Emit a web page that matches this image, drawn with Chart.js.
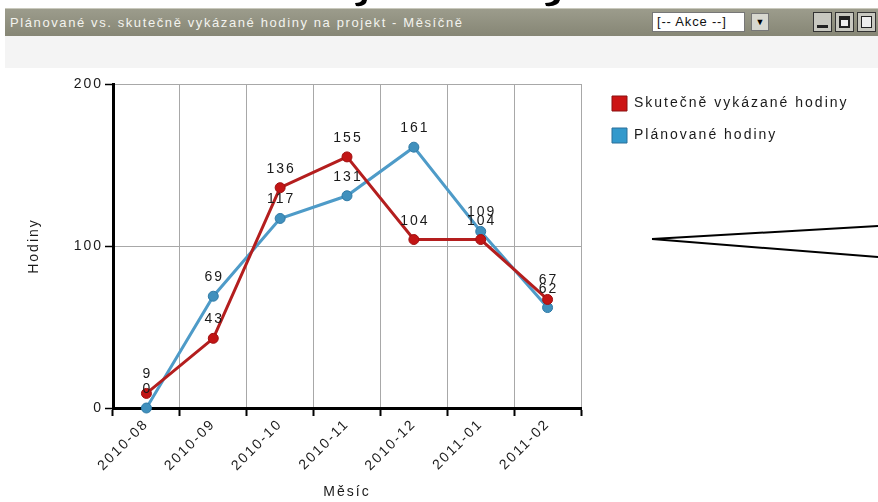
<!DOCTYPE html>
<html>
<head>
<meta charset="utf-8">
<script src="https://cdn.jsdelivr.net/npm/chart.js@4.4.1/dist/chart.umd.min.js"></script>
<style>
  body { margin: 0; width: 878px; height: 502px; overflow: hidden; position: relative; background: #fff; font-family: "Liberation Sans", Arial, sans-serif; }
  #bar { position: absolute; left: 5px; top: 8px; width: 873px; height: 28px; box-sizing: border-box; background: linear-gradient(#9c9c8c, #868675); border-top: 1px solid #c9c9bd; }
  #bar .t { position: absolute; left: 5px; top: 6px; color: #f3f3ee; font-size: 13px; letter-spacing: 1.6px; white-space: nowrap; }
  #sel { position: absolute; left: 647px; top: 3px; width: 93px; height: 20px; box-sizing: border-box; background: #fff; border: 1px solid #777; font-size: 13px; line-height: 18px; padding-left: 4px; color: #111; letter-spacing: 0.8px; }
  #arr { position: absolute; left: 746px; top: 4px; width: 18px; height: 18px; box-sizing: border-box; background: #d8d8d0; border: 1px solid #777; font-size: 9px; line-height: 16px; text-align: center; color: #000; }
  .btn { position: absolute; top: 3px; width: 19px; height: 20px; box-sizing: border-box; background: #c8c8c0; border: 1px solid #333; }
  .btn i { position: absolute; left: 3px; top: 3px; width: 11px; height: 12px; box-sizing: border-box; border: 2px solid #222; background: #eee; }
  #band { position: absolute; left: 5px; top: 36px; width: 873px; height: 32px; background: #f4f4f4; }
  #wrap { position: absolute; left: 5px; top: 68px; width: 873px; height: 434px; }
  svg { position: absolute; left: 0; top: 0; }
</style>
</head>
<body>
<div id="bar">
  <span class="t">Plánované vs. skutečně vykázané hodiny na projekt - Měsíčně</span>
  <div id="sel">[-- Akce --]</div>
  <div id="arr">&#9660;</div>
  <div class="btn" style="left:808px"><i style="top:12px;height:3px;border-width:1px;background:#222"></i></div>
  <div class="btn" style="left:830px"><i style="border-top-width:4px"></i></div>
  <div class="btn" style="left:852px"><i style="border-width:1px"></i></div>
</div>
<div id="band"></div>
<div id="wrap"><canvas id="chart" width="873" height="434"></canvas></div>
<svg width="878" height="502">
  <path d="M367,0 Q366,7 356,6 L355,3 Q361,3 362,0 Z" fill="#000"/>
  <path d="M560,0 Q558,7 546,6 L545,3 Q552,3 554,0 Z" fill="#000"/>
  <line x1="652" y1="239" x2="878" y2="226" stroke="#000" stroke-width="2"/>
  <line x1="652" y1="239" x2="878" y2="257" stroke="#000" stroke-width="2"/>
</svg>
<script>
var months = ['2010-08', '2010-09', '2010-10', '2010-11', '2010-12', '2011-01', '2011-02'];
var actualHours = [9, 43, 136, 155, 104, 104, 67];
var plannedHours = [0, 69, 117, 131, 161, 109, 62];
var yTicks = [0, 100, 200];
var seriesNames = ['Skutečně vykázané hodiny', 'Plánované hodiny'];
var legendFill = ['#cc1414', '#3399cc'];
var legendStroke = ['#8a1010', '#2a6f99'];

Chart.defaults.font.family = '"Liberation Sans", Arial, sans-serif';
Chart.defaults.font.size = 14;
Chart.defaults.color = '#1a1a1a';

// text in the original is drawn with wide letter spacing
var spacing = {
    id: 'spacing',
    beforeLayout: function(chart) { chart.ctx.letterSpacing = '2px'; },
    beforeDraw: function(chart) { chart.ctx.letterSpacing = '2px'; }
};

// move legend a bit right/up and widen its clip box so text isn't cut
var legendShift = {
    id: 'legendShift',
    afterLayout: function(chart) {
        var l = chart.legend;
        l.left += 14;
        l.right = chart.width;
        l.width = l.right - l.left;
        l.top -= 5; l.bottom -= 5;
    }
};

var valueLabels = {
    id: 'valueLabels',
    afterDatasetsDraw: function(chart) {
        var ctx = chart.ctx;
        ctx.save();
        ctx.font = '14px "Liberation Sans", Arial, sans-serif';
        ctx.fillStyle = '#1a1a1a';
        ctx.textAlign = 'center';
        ctx.textBaseline = 'alphabetic';
        chart.data.datasets.forEach(function(ds, i) {
            chart.getDatasetMeta(i).data.forEach(function(pt, j) {
                ctx.fillText(String(ds.data[j]), pt.x + 1, pt.y - 15);
            });
        });
        ctx.restore();
    }
};

var ctx = document.getElementById('chart').getContext('2d');
var hoursChart = new Chart(ctx, {
    type: 'line',
    data: {
        labels: months,
        datasets: [{
            label: seriesNames[0],
            data: actualHours,
            borderColor: '#b41e1e',
            backgroundColor: legendFill[0],
            borderWidth: 3,
            pointRadius: 5,
            pointBackgroundColor: '#c21515',
            pointBorderColor: '#a01010',
            pointBorderWidth: 1,
            tension: 0,
            clip: false
        }, {
            label: seriesNames[1],
            data: plannedHours,
            borderColor: '#4e9bc8',
            backgroundColor: legendFill[1],
            borderWidth: 3,
            pointRadius: 5,
            pointBackgroundColor: '#4090bd',
            pointBorderColor: '#2f7aa6',
            pointBorderWidth: 1,
            tension: 0,
            clip: false
        }]
    },
    options: {
        responsive: false,
        animation: false,
        devicePixelRatio: 1,
        events: [],
        layout: { padding: { left: 17, top: 16, right: 97, bottom: 0 } },
        plugins: {
            tooltip: { enabled: false },
            legend: {
                position: 'right',
                align: 'start',
                maxWidth: 200,
                labels: {
                    boxWidth: 15,
                    boxHeight: 15,
                    padding: 17,
                    color: '#1a1a1a',
                    font: { size: 14 },
                    generateLabels: function(chart) {
                        return Chart.defaults.plugins.legend.labels.generateLabels(chart).map(function(item) {
                            item.fillStyle = legendFill[item.datasetIndex];
                            item.strokeStyle = legendStroke[item.datasetIndex];
                            item.lineWidth = 1;
                            return item;
                        });
                    }
                }
            }
        },
        scales: {
            x: {
                offset: true,
                grid: { offset: true, color: '#a8a8a8', lineWidth: 1, tickLength: 8, tickColor: '#000', tickWidth: 2 },
                border: { color: '#000', width: 3 },
                ticks: { minRotation: 45, maxRotation: 45, padding: 0, color: '#1a1a1a' },
                title: { display: true, text: 'Měsíc', color: '#1a1a1a', padding: { top: 4, bottom: 1 } },
                afterFit: function(s) { s.height = 94; }
            },
            y: {
                min: 0,
                max: 200,
                afterBuildTicks: function(s) { s.ticks = yTicks.map(function(v) { return { value: v }; }); },
                grid: { color: '#a8a8a8', lineWidth: 1, tickLength: 8, tickColor: '#000', tickWidth: 1.5 },
                border: { color: '#000', width: 3 },
                ticks: { padding: 2, color: '#1a1a1a' },
                title: { display: true, text: 'Hodiny', color: '#1a1a1a' },
                afterFit: function(s) { s.width = 91; }
            }
        }
    },
    plugins: [spacing, legendShift, valueLabels]
});
</script>
</body>
</html>
